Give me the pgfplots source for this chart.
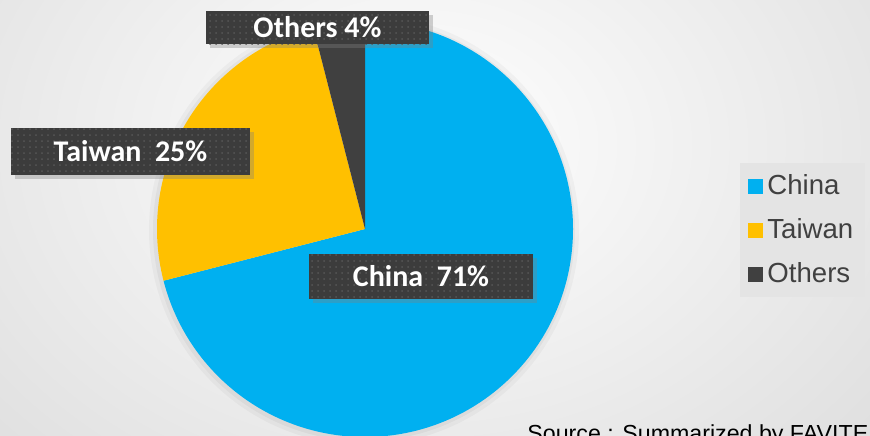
\documentclass[border=0pt]{standalone}
\usepackage{fontspec}
\setmainfont{Liberation Sans}
\newfontfamily\labelfont{Carlito}
\usepackage{pgfplots}
\usepackage{pgfplotstable}
\pgfplotsset{compat=1.18}
\usetikzlibrary{patterns,shadows}

\definecolor{chinacol}{HTML}{00B0F0}
\definecolor{taiwancol}{HTML}{FFC000}
\definecolor{otherscol}{HTML}{404040}
\definecolor{boxcol}{HTML}{3C3C3C}
\definecolor{dotcol}{HTML}{575757}
\definecolor{legendbg}{HTML}{E4E4E4}
\definecolor{legendtext}{HTML}{404040}
\definecolor{bgouter}{HTML}{C0C0C0}

% market share (%)
\pgfplotstableread{
region share
China 71
Taiwan 25
Others 4
}\sharetable

\tikzset{lbl/.style={fill=boxcol, postaction={pattern=dots, pattern color=dotcol},
    drop shadow={shadow xshift=2pt, shadow yshift=-2pt, opacity=0.35},
    text=white, font=\labelfont\bfseries\fontsize{15}{18}\selectfont, inner sep=0pt}}

\begin{document}
\begin{tikzpicture}
\pgfplotstablegetelem{0}{share}\of\sharetable \edef\shareChina{\pgfplotsretval}
\pgfplotstablegetelem{1}{share}\of\sharetable \edef\shareTaiwan{\pgfplotsretval}
\pgfplotstablegetelem{2}{share}\of\sharetable \edef\shareOthers{\pgfplotsretval}
\pgfmathsetmacro\aChina{90-3.6*\shareChina}
\pgfmathsetmacro\aTaiwan{\aChina-3.6*\shareTaiwan}
\pgfmathsetmacro\aOthers{\aTaiwan-3.6*\shareOthers}
\begin{axis}[
    width=435pt, height=217.5pt, scale only axis,
    xmin=0, xmax=870, ymin=0, ymax=435,
    hide axis, clip=true,
    legend style={at={(axis cs:740,272)}, anchor=north west, fill=legendbg, draw=none,
        inner xsep=4pt, inner ysep=3.5pt, row sep=6pt,
        font=\fontsize{13.8}{16}\selectfont, text=legendtext,
        nodes={inner sep=2pt, text height=10pt, text depth=2pt}},
    legend cell align=left,
    legend image code/.code={\fill[#1, draw=none] (0pt,-3.75pt) rectangle (7.5pt,3.75pt);},
]
\addlegendimage{fill=chinacol, draw=none}\addlegendentry{China}
\addlegendimage{fill=taiwancol, draw=none}\addlegendentry{Taiwan}
\addlegendimage{fill=otherscol, draw=none}\addlegendentry{Others}

\coordinate (bbSW) at (axis cs:0,0);
\coordinate (bbNE) at (axis cs:870,435);

% background
\shade[shading=radial, inner color=white, outer color=bgouter]
    (axis cs:-760,-610) rectangle (axis cs:1600,1190);

% soft shadow of the pie
\fill[black, opacity=0.03] (axis cs:364,205) circle[radius=107.5pt];
\fill[black, opacity=0.04] (axis cs:364,205) circle[radius=105.5pt];

% slices
\fill[chinacol] (axis cs:365,206) -- ++(90:104pt)
    arc[start angle=90, end angle=\aChina, radius=104pt] -- cycle;
\fill[taiwancol] (axis cs:365,206) -- ++(\aChina:104pt)
    arc[start angle=\aChina, end angle=\aTaiwan, radius=104pt] -- cycle;
\fill[otherscol] (axis cs:365,206) -- ++(\aTaiwan:104pt)
    arc[start angle=\aTaiwan, end angle=\aOthers, radius=104pt] -- cycle;

% data labels
\node[lbl, minimum width=111.5pt, minimum height=16.5pt] at (axis cs:317.5,407.5) {Others 4\%};
\node[lbl, minimum width=119.5pt, minimum height=23.5pt] at (axis cs:130.5,283.5) {Taiwan~~25\%};
\node[lbl, minimum width=112pt, minimum height=22.5pt] at (axis cs:421,158.5) {China~~71\%};

\node[anchor=base west, inner sep=0pt, font=\fontsize{11.6}{14}\selectfont, text=black]
    at (axis cs:527,-6) {Source : Summarized by FAVITE};
\end{axis}
\pgfresetboundingbox
\path[use as bounding box] (bbSW) rectangle (bbNE);
\end{tikzpicture}
\end{document}
